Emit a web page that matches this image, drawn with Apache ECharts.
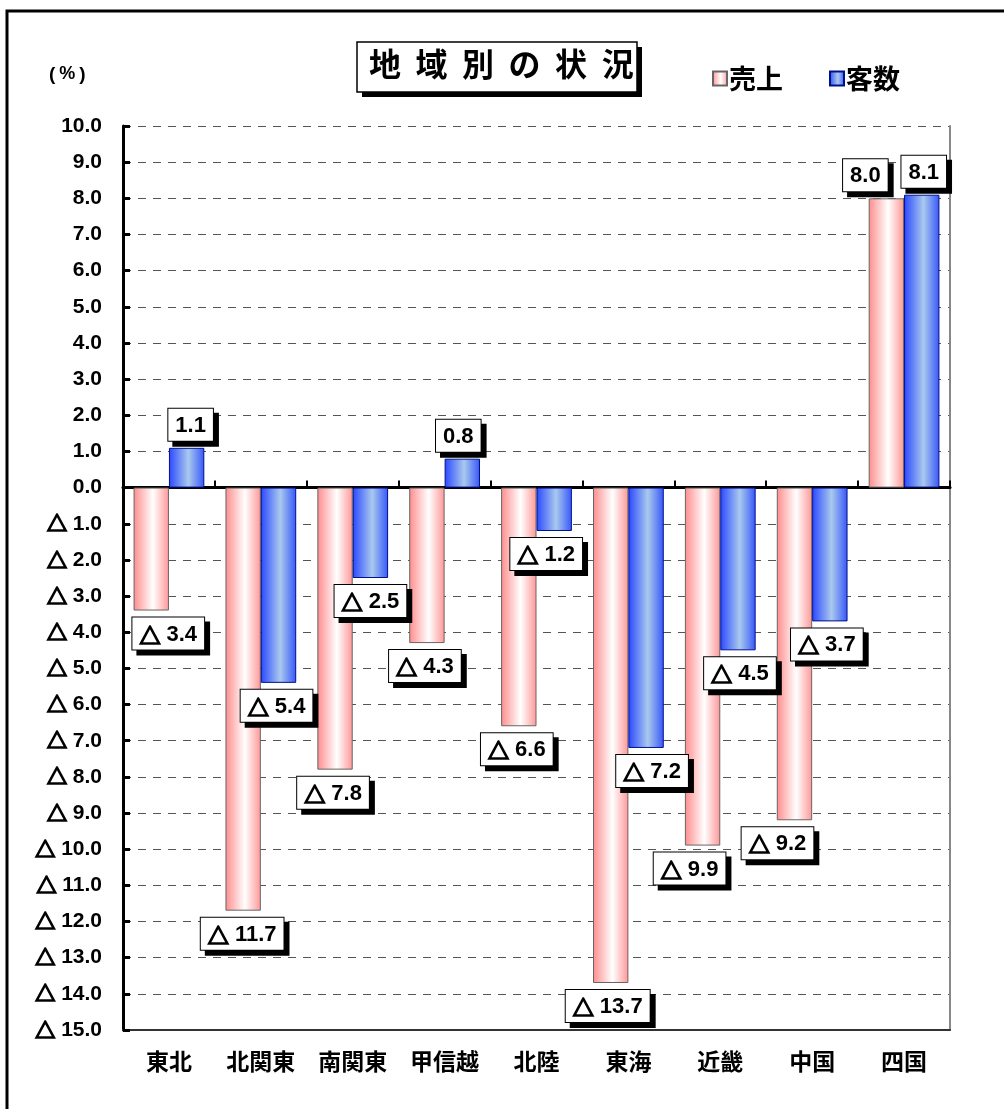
<!DOCTYPE html>
<html>
<head>
<meta charset="utf-8">
<script src="https://cdn.jsdelivr.net/npm/echarts@6/dist/echarts.min.js"></script>
<style>
html,body{margin:0;padding:0;background:#fff;}
#c{width:1004px;height:1109px;}
</style>
</head>
<body>
<div id="c"></div>
<script>
const categories = ['東北','北関東','南関東','甲信越','北陸','東海','近畿','中国','四国'];
const salesValues = [-3.4, -11.7, -7.8, -4.3, -6.6, -13.7, -9.9, -9.2, 8.0];
const customerValues = [1.1, -5.4, -2.5, 0.8, -1.2, -7.2, -4.5, -3.7, 8.1];
const yTicks = {min: -15, max: 10, interval: 1};
// horizontal nudges of the value boxes (style only)
const salesLabelDx = [17, -1, -2, -2, -2, -3, -13, -17, -21];
const customerLabelDx = [4, -2, 0, -4, -8, 6, 2, -3, 2];

const fmtRich = v => v < 0 ? '{t|△} ' + Math.abs(v).toFixed(1) : v.toFixed(1);
const NUMFONT = '"Liberation Sans", Arial, sans-serif';
const JPFONT = '"Noto Sans CJK JP", sans-serif';

const labelBox = {
  show: true,
  distance: 7,
  formatter: p => fmtRich(p.value),
  color: '#000',
  fontFamily: NUMFONT,
  fontWeight: 'bold',
  fontSize: 22,
  lineHeight: 22,
  backgroundColor: '#fff',
  borderColor: '#000',
  borderWidth: 1,
  padding: [6, 7, 4, 7],
  shadowColor: '#000',
  shadowOffsetX: 5,
  shadowOffsetY: 5,
  shadowBlur: 0,
  rich: {t: {fontFamily: JPFONT, fontWeight: 'bold', fontSize: 21, lineHeight: 22, color: '#000',
             textBorderColor: '#000', textBorderWidth: 1.6}}
};

function items(vals, dx) {
  return vals.map((v, i) => ({
    value: v,
    label: {position: v < 0 ? 'bottom' : 'top', offset: [dx[i], 0]}
  }));
}

const pinkGrad = new echarts.graphic.LinearGradient(0, 0, 1, 0, [
  {offset: 0, color: '#ff8c8c'},
  {offset: 0.55, color: '#ffffff'},
  {offset: 1, color: '#ff9696'}
]);
const blueGrad = new echarts.graphic.LinearGradient(0, 0, 1, 0, [
  {offset: 0, color: '#2a48ff'},
  {offset: 0.55, color: '#a9c9ee'},
  {offset: 1, color: '#3656fa'}
]);

const chart = echarts.init(document.getElementById('c'));
chart.setOption({
  animation: false,
  backgroundColor: '#fff',
  grid: {left: 123, top: 126, right: 54, bottom: 79, containLabel: false},
  legend: {
    left: 707, top: 60,
    itemWidth: 14, itemHeight: 14, itemGap: 46,
    icon: 'rect',
    textStyle: {fontFamily: JPFONT, fontWeight: 'bold', fontSize: 27, color: '#000', padding: [0, 0, 0, -3]},
    data: ['売上', '客数']
  },
  xAxis: [
    {
      type: 'category', data: categories,
      axisLine: {onZero: false, lineStyle: {color: '#333', width: 2}},
      axisTick: {show: false},
      axisLabel: {interval: 0, margin: 20, color: '#000', fontFamily: JPFONT, fontWeight: 'bold', fontSize: 23}
    },
    {
      type: 'category', data: categories, position: 'bottom',
      axisLine: {onZero: true, lineStyle: {color: '#000', width: 3}},
      axisTick: {show: true, interval: 0, inside: true, length: 7, lineStyle: {color: '#000', width: 2}},
      axisLabel: {show: false}
    }
  ],
  yAxis: [
    {
      type: 'value', min: yTicks.min, max: yTicks.max, interval: yTicks.interval,
      axisLine: {show: true, lineStyle: {color: '#000', width: 3}},
      axisTick: {show: true, inside: true, length: 7, lineStyle: {color: '#000', width: 3}},
      axisLabel: {margin: 21, formatter: fmtRich, color: '#000', fontFamily: NUMFONT, fontWeight: 'bold', fontSize: 21,
        rich: {t: {fontFamily: JPFONT, fontWeight: 'bold', fontSize: 20, color: '#000',
                   textBorderColor: '#000', textBorderWidth: 1.6}}},
      splitLine: {show: true, lineStyle: {color: '#555', type: [8, 7], width: 1}}
    },
    {
      type: 'value', position: 'right', min: yTicks.min, max: yTicks.max, interval: yTicks.interval,
      axisLine: {show: true, lineStyle: {color: '#888', width: 2}},
      axisTick: {show: false}, axisLabel: {show: false}, splitLine: {show: false}
    }
  ],
  series: [
    {
      name: '売上', type: 'bar', xAxisIndex: 0, yAxisIndex: 0,
      barGap: '0%', barCategoryGap: '23%',
      itemStyle: {color: pinkGrad, borderColor: '#666', borderWidth: 1},
      label: labelBox,
      data: items(salesValues, salesLabelDx)
    },
    {
      name: '客数', type: 'bar', xAxisIndex: 0, yAxisIndex: 0,
      barGap: '0%', barCategoryGap: '23%',
      itemStyle: {color: blueGrad, borderColor: '#00108a', borderWidth: 1},
      label: labelBox,
      data: items(customerValues, customerLabelDx)
    }
  ],
  graphic: [
    {type: 'rect', z: 100, shape: {x: 7, y: 11, width: 1010, height: 1110},
     style: {fill: 'none', stroke: '#000', lineWidth: 3}},
    {type: 'rect', z: 100, shape: {x: 362, y: 47, width: 280, height: 50},
     style: {fill: '#000'}},
    {type: 'rect', z: 101, shape: {x: 357, y: 42, width: 280, height: 50},
     style: {fill: '#fff', stroke: '#000', lineWidth: 1.5}},
    {type: 'text', z: 102, left: 369, top: 48,
     style: {text: '地  域  別  の  状  況', fill: '#000', font: 'bold 32px "Noto Sans CJK JP", sans-serif'}},
    {type: 'text', z: 102, left: 49, top: 65,
     style: {text: '{a|(}{b|%}{a|)}', fill: '#000', font: 'bold 18px "Liberation Sans", sans-serif',
       rich: {a: {fontFamily: '"Liberation Sans"', fontWeight: 'bold', fontSize: 19},
              b: {fontFamily: '"Liberation Sans"', fontWeight: 'bold', fontSize: 18, padding: [0, 4]}}}}
  ]
});
</script>
</body>
</html>
